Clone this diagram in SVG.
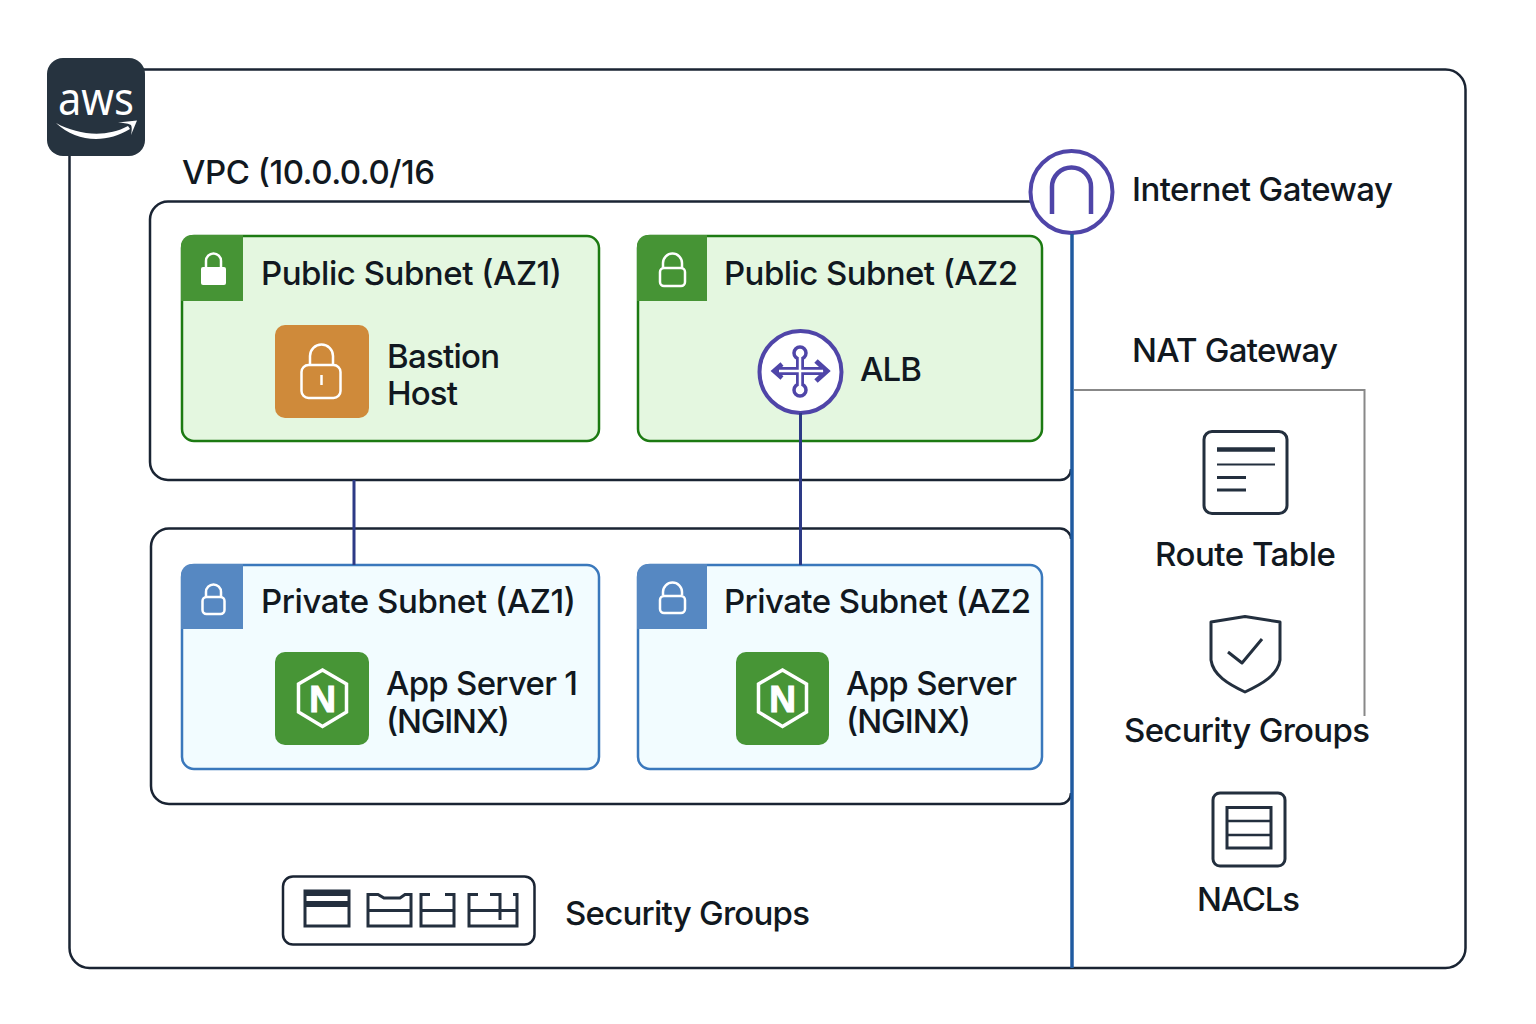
<svg xmlns="http://www.w3.org/2000/svg" width="1536" height="1024" viewBox="0 0 1536 1024">
<style>
text{font-family:Inter,"Liberation Sans",sans-serif;font-size:33px;font-weight:500;fill:#111820}
.box{fill:none;stroke:#1a2433;stroke-width:2.5}
.pub{fill:#e4f7e0;stroke:#1c7a12;stroke-width:2.5}
.pri{fill:#f2fcff;stroke:#3a78bc;stroke-width:2.5}
.hpub{fill:#469435}
.hpri{fill:#5688c2}
.lk{fill:none;stroke:#fff;stroke-width:2.5}
.ngx{fill:#479536}
.hex{fill:none;stroke:#fff;stroke-width:3.5}
.n{font-family:"Liberation Sans",sans-serif;font-weight:700;font-size:37px;fill:#fff;stroke:#fff;stroke-width:1;text-anchor:middle}
.pur{fill:#fff;stroke:#4f45a8;stroke-width:4}
.ic{fill:none;stroke:#232f3e;stroke-width:3}
.thick{stroke-width:4.5}
.thin{stroke-width:2.2}
.mid{stroke-width:2.5}
.ic2{fill:none;stroke:#232f3e;stroke-width:3;stroke-linejoin:round}
</style>
<rect width="1536" height="1024" fill="#fff"/>
<g id="aws-cloud">
<rect class="box" x="69.500" y="69.500" width="1396" height="898.500" rx="20"/>
</g>
<g id="vpc">
<path class="box" d="M1032 201.500H168A18 18 0 0 0 150 219.500V462A18 18 0 0 0 168 480H1060A11 11 0 0 0 1071 469"/>
<text x="182" y="184" textLength="253">VPC (10.0.0.0/16</text>
</g>
<g id="private-tier">
<path class="box" d="M1071 539A11 11 0 0 0 1060 528.500H169A18 18 0 0 0 151 546.500V786A18 18 0 0 0 169 804H1060A11 11 0 0 0 1071 793"/>
</g>
<g id="aws-logo">
<rect x="47" y="58" width="98" height="98" rx="16" fill="#26333f"/>
<text x="58" y="115" textLength="76" lengthAdjust="spacingAndGlyphs" style="font-family:'Noto Sans',sans-serif;font-size:46px;font-weight:400;fill:#fff">aws</text>
<path d="M56 123C78 135 106 138 128 126L130 129C106 144 76 142 56 123ZM118 122.500L137 120.500L131 135C132 130 132 127 131 125C127 123 123 123 118 122.500Z" fill="#fff"/>
</g>
<g id="public-subnet-az1">
<rect class="pub" x="182" y="236" width="417" height="205" rx="12"/>
<path class="hpub" d="M181 301V246A11 11 0 0 1 192 235H243V301Z"/>
<path d="M206 268V261A7.500 7.500 0 0 1 221 261V268" class="lk"/>
<rect x="201" y="267" width="25" height="18" rx="2" fill="#fff"/>
<text x="261" y="285" textLength="301">Public Subnet (AZ1)</text>
</g>
<g id="bastion-host">
<rect x="275" y="325" width="94" height="93" rx="10" fill="#cf8a3a"/>
<path class="lk" d="M310 365V356A11.500 11.500 0 0 1 333 356V365"/>
<rect class="lk" x="301.500" y="365" width="39" height="33" rx="7"/>
<path class="lk" d="M321.500 375V385"/>
<text x="387" y="367.500" textLength="113">Bastion</text>
<text x="387" y="405" textLength="71">Host</text>
</g>
<g id="public-subnet-az2">
<rect class="pub" x="638" y="236" width="404" height="205" rx="12"/>
<path class="hpub" d="M637 301V246A11 11 0 0 1 648 235H707V301Z"/>
<path class="lk" d="M663 268V263A9.500 9.500 0 0 1 682 263V268"/>
<rect class="lk" x="660" y="268" width="25" height="18" rx="4"/>
<text x="724" y="285" textLength="294">Public Subnet (AZ2</text>
</g>
<g id="alb">
<circle class="pur" cx="800.500" cy="372" r="41"/>
<g fill="none" stroke="#4f45a8" stroke-linejoin="miter">
<path d="M800 353V390M776 371H822" stroke-width="8"/>
<path d="M782 364L774 371L782 378" stroke-width="4.500"/>
<path d="M816 361L827 371L816 381" stroke-width="5"/>
</g>
<circle cx="800" cy="353" r="6" fill="#fff" stroke="#4f45a8" stroke-width="3.500"/>
<circle cx="800" cy="390" r="6" fill="#fff" stroke="#4f45a8" stroke-width="3.500"/>
<path d="M800 357V386M779 371H823" fill="none" stroke="#fff" stroke-width="2.500"/>
<text x="860" y="381" textLength="62">ALB</text>
</g>
<g id="private-subnet-az1">
<rect class="pri" x="182" y="565" width="417" height="204" rx="12"/>
<path class="hpri" d="M181 629V575A11 11 0 0 1 192 564H243V629Z"/>
<path class="lk" d="M206 597V592A7.500 7.500 0 0 1 221 592V597"/>
<rect class="lk" x="202.500" y="597" width="22" height="17" rx="4"/>
<text x="261" y="613" textLength="315">Private Subnet (AZ1)</text>
</g>
<g id="app-server-1">
<rect class="ngx" x="275" y="652" width="94" height="93" rx="10"/>
<path class="hex" d="M322.500 670L346.500 684V712L322.500 726.500L298.500 712V684Z"/>
<text class="n" x="322.500" y="712">N</text>
<text x="386" y="695" textLength="192">App Server 1</text>
<text x="386" y="733" textLength="124">(NGINX)</text>
</g>
<g id="private-subnet-az2">
<rect class="pri" x="638" y="565" width="404" height="204" rx="12"/>
<path class="hpri" d="M637 629V575A11 11 0 0 1 648 564H707V629Z"/>
<path class="lk" d="M663 595V592A9.500 9.500 0 0 1 682 592V595"/>
<rect class="lk" x="660" y="596" width="25" height="17" rx="4"/>
<text x="724" y="613" textLength="307">Private Subnet (AZ2</text>
</g>
<g id="app-server-2">
<rect class="ngx" x="736" y="652" width="93" height="93" rx="10"/>
<path class="hex" d="M782.500 670L806.500 684V712L782.500 726.500L758.500 712V684Z"/>
<text class="n" x="782.500" y="712">N</text>
<text x="846" y="695" textLength="171">App Server</text>
<text x="846" y="733" textLength="125">(NGINX)</text>
</g>
<g id="internet-gateway">
<circle class="pur" cx="1071.500" cy="192" r="41"/>
<path d="M1052 214V187A19.500 19.500 0 0 1 1091 187V214" fill="none" stroke="#4f45a8" stroke-width="4.500"/>
<text x="1132" y="201" textLength="261">Internet Gateway</text>
</g>
<g id="nat-gateway">
<text x="1132" y="362" textLength="206">NAT Gateway</text>
</g>
<g id="route-table">
<rect class="ic" x="1204" y="431.500" width="83" height="82" rx="8"/>
<path class="ic thick" d="M1217 449.500H1275"/>
<path class="ic thin" d="M1217 464.500H1275"/>
<path class="ic" d="M1217 477.500H1246M1217 490H1246"/>
<text x="1155" y="566" textLength="181">Route Table</text>
</g>
<g id="security-groups-right">
<path class="ic2" d="M1245 616.500L1211 622V660C1213 675 1228 684 1245 692C1262 684 1278 675 1280 660V622Z"/>
<path class="ic2" d="M1228 652L1242 663L1262 639"/>
<text x="1124" y="742" textLength="246">Security Groups</text>
</g>
<g id="nacls">
<rect class="ic" x="1213" y="793" width="72" height="73" rx="7"/>
<rect class="ic" x="1227" y="807.500" width="44" height="40.500"/>
<path class="ic mid" d="M1227 821H1271M1227 835H1271"/>
<text x="1197" y="911" textLength="103">NACLs</text>
</g>
<g id="security-groups-bottom">
<rect class="box" x="283" y="876.500" width="251.500" height="68" rx="10"/>
<rect class="ic" x="305" y="891" width="44" height="35"/>
<path d="M304 890H349V896H304ZM304 901H349V907H304Z" fill="#232f3e"/>
<path class="ic" d="M368 926V894.500H378L384 898H400L405 894.500H411V926ZM368 910.500H411"/>
<path class="ic" d="M430 894.500H421V926H454V894.500H445M421 910.500H454"/>
<path class="ic" d="M478 894.500H469V926H517V894.500H513M490 894.500H500V920M469 910.500H517"/>
<text x="565" y="925" textLength="245">Security Groups</text>
</g>
<g id="connectors" fill="none">
<path d="M354 480V565M800.500 413V565" stroke="#2d3a86" stroke-width="3"/>
<path d="M1072 234V968" stroke="#1f5aa0" stroke-width="3.500"/>
<path d="M1074 390H1364.500V716" stroke="#888" stroke-width="2"/>
</g>
</svg>
